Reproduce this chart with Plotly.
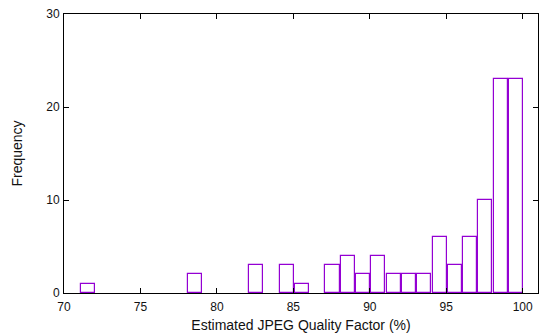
import plotly.graph_objects as go

# Data
quality_bins = [71, 78, 82, 84, 85, 87, 88, 89, 90, 91, 92, 93, 94, 95, 96, 97, 98, 99]
frequency = [1, 2, 3, 3, 1, 3, 4, 2, 4, 2, 2, 2, 6, 3, 6, 10, 23, 23]

x_ticks = [70, 75, 80, 85, 90, 95, 100]
y_ticks = [0, 10, 20, 30]

fig = go.Figure(
    go.Bar(
        x=quality_bins,
        y=frequency,
        width=0.92,
        offset=0.1,
        marker=dict(color="rgba(0,0,0,0)", line=dict(color="#9400d3", width=1.2)),
    )
)

font = dict(family="Liberation Sans, Arial, sans-serif", size=12, color="#111")

fig.update_layout(
    width=542,
    height=335,
    margin=dict(l=64, r=4, t=14, b=42, autoexpand=False),
    paper_bgcolor="white",
    plot_bgcolor="white",
    font=font,
    showlegend=False,
    bargap=0,
)
fig.update_xaxes(
    range=[70, 101],
    tickvals=x_ticks,
    ticks="inside",
    ticklen=5,
    tickcolor="black",
    showline=True,
    linecolor="black",
    linewidth=1,
    mirror="ticks",
    showgrid=False,
    zeroline=False,
    ticklabelstandoff=3,
    title=dict(text="Estimated JPEG Quality Factor (%)", standoff=6),
)
fig.update_yaxes(
    range=[0, 30],
    tickvals=y_ticks,
    ticks="inside",
    ticklen=5,
    tickcolor="black",
    showline=True,
    linecolor="black",
    linewidth=1,
    mirror="ticks",
    showgrid=False,
    zeroline=False,
    ticklabelstandoff=1,
    title=dict(text="Frequency", standoff=20),
)

fig.write_html(
    "out.html",
    config={"displayModeBar": False},
    post_script="document.body.style.margin='0';document.body.style.padding='0';",
)
